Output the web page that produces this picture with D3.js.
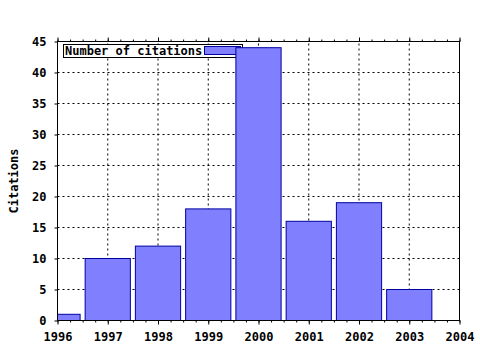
<!DOCTYPE html>
<html>
<head>
<meta charset="utf-8">
<script src="https://cdn.jsdelivr.net/npm/d3@7"></script>
<style>
  body { margin: 0; background: #fff; }
  svg text { font-family: "DejaVu Sans Mono", monospace; font-weight: bold; font-size: 12px; fill: #000; }
  .axis path { display: none; }
  .axis line { stroke: #000; }
  .grid line { stroke: #000; stroke-dasharray: 2,3; }
</style>
</head>
<body>
<div id="chart"></div>
<script>
// citations per year
const years = [1996, 1997, 1998, 1999, 2000, 2001, 2002, 2003];
const citations = [1, 10, 12, 18, 44, 16, 19, 5];
const xTicks = [1996, 1997, 1998, 1999, 2000, 2001, 2002, 2003, 2004];
const yTicks = [0, 5, 10, 15, 20, 25, 30, 35, 40, 45];
const seriesName = 'Number of citations';
const yTitle = 'Citations';

const width = 480, height = 350;
const plotL = 57.5, plotR = 459.5, plotT = 41.5, plotB = 320.5;

const svg = d3.select('#chart').append('svg')
  .attr('width', width)
  .attr('height', height);

const x = d3.scaleLinear().domain([1996, 2004]).range([plotL, plotR]);
const y = d3.scaleLinear().domain([0, 45]).range([plotB, plotT]);

svg.append('defs').append('clipPath').attr('id', 'plot')
  .append('rect')
  .attr('x', plotL).attr('y', plotT)
  .attr('width', plotR - plotL).attr('height', plotB - plotT);

// grid
const grid = svg.append('g').attr('class', 'grid');
grid.selectAll('line.gx')
  .data(xTicks.slice(1, -1))
  .enter().append('line')
  .attr('x1', d => x(d)).attr('x2', d => x(d))
  .attr('y1', plotB).attr('y2', plotT);
grid.selectAll('line.gy')
  .data(yTicks.slice(1, -1))
  .enter().append('line')
  .attr('y1', d => y(d)).attr('y2', d => y(d))
  .attr('x1', plotL).attr('x2', plotR);

// key (drawn before the bars, the 2000 bar covers it)
const key = svg.append('g');
key.append('rect')
  .attr('x', 63.5).attr('y', 44.5)
  .attr('width', 179).attr('height', 13)
  .attr('fill', '#fff').attr('stroke', '#000');
key.append('text')
  .attr('x', 65).attr('y', 55)
  .text(seriesName);
key.append('rect')
  .attr('x', 204.5).attr('y', 46.5)
  .attr('width', 36).attr('height', 8)
  .attr('fill', '#8080ff').attr('stroke', '#0000a0');

// bars
const barW = 0.9;
svg.append('g')
  .attr('clip-path', 'url(#plot)')
  .selectAll('rect')
  .data(years)
  .enter().append('rect')
  .attr('x', d => x(d - barW / 2))
  .attr('width', d => x(d + barW / 2) - x(d - barW / 2))
  .attr('y', (d, i) => y(citations[i]))
  .attr('height', (d, i) => y(0) - y(citations[i]))
  .attr('fill', '#8080ff')
  .attr('stroke', '#0000a0')
  .attr('stroke-width', 1);

// border
svg.append('rect')
  .attr('x', plotL).attr('y', plotT)
  .attr('width', plotR - plotL).attr('height', plotB - plotT)
  .attr('fill', 'none').attr('stroke', '#000');

// axes
const minor = d3.range(1996, 2004.01, 0.25);

svg.append('g').attr('class', 'axis')
  .attr('transform', 'translate(0,' + plotB + ')')
  .call(d3.axisBottom(x).tickValues(minor).tickSize(2).tickFormat(''));
svg.append('g').attr('class', 'axis')
  .attr('transform', 'translate(0,' + plotB + ')')
  .call(d3.axisBottom(x).tickValues(xTicks).tickSize(4).tickPadding(8).tickFormat(d3.format('d')))
  .selectAll('text').attr('font-size', null).attr('font-family', null);

svg.append('g').attr('class', 'axis')
  .attr('transform', 'translate(0,' + plotT + ')')
  .call(d3.axisTop(x).tickValues(minor).tickSize(2).tickFormat(''));
svg.append('g').attr('class', 'axis')
  .attr('transform', 'translate(0,' + plotT + ')')
  .call(d3.axisTop(x).tickValues(xTicks).tickSize(4).tickFormat(''));

svg.append('g').attr('class', 'axis')
  .attr('transform', 'translate(' + plotL + ',0)')
  .call(d3.axisLeft(y).tickValues(yTicks).tickSize(3).tickPadding(8))
  .selectAll('text').attr('font-size', null).attr('font-family', null);

// y title
svg.append('text')
  .attr('transform', 'translate(18,' + ((plotT + plotB) / 2) + ') rotate(-90)')
  .attr('text-anchor', 'middle')
  .text(yTitle);
</script>
</body>
</html>
